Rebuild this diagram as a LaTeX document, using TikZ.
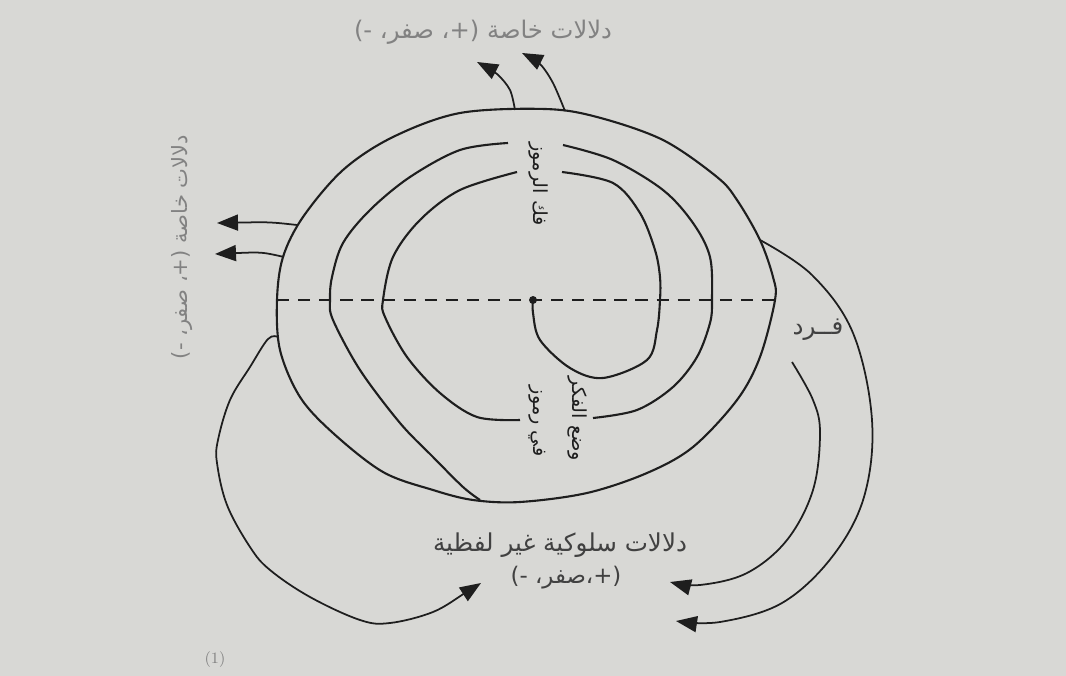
\documentclass[tikz,border=0pt]{standalone}
\usepackage{fontspec}
\usetikzlibrary{arrows.meta}
\TeXXeTstate=1
\newfontfamily\arabicfont[Script=Arabic]{DejaVu Sans}
\definecolor{paper}{RGB}{216,216,213}
\definecolor{ink}{RGB}{30,30,30}
\definecolor{faint}{RGB}{130,130,130}
\definecolor{mid}{RGB}{65,65,65}

\begin{document}
\begin{tikzpicture}[x=0.02cm, y=-0.02cm,
    ring/.style={draw=ink, line width=1.2pt},
    link/.style={draw=ink, line width=1pt, -{Triangle[length=4.2mm, width=3.2mm]}},
    grey/.style={font=\arabicfont\fontsize{#1}{16}\selectfont, text=faint, inner sep=0pt},
    dark/.style={font=\arabicfont\fontsize{#1}{16}\selectfont, text=mid, inner sep=0pt},
    turn/.style={font=\arabicfont\fontsize{11}{13}\selectfont, text=ink, inner sep=0pt, rotate=-90}]
        % Page
        \fill[paper] (0,0) rectangle (1066,676);
        \useasboundingbox (0,0) rectangle (1066,676);

        % Draw nodes
        \node[grey=13.8] (top) at (483,32) {\beginR دلالات خاصة (+، صفر، -)\endR};
        \node[grey=12, rotate=90] (side) at (182,247) {\beginR دلالات خاصة (+، صفر، -)\endR};
        \node[turn] (decode) at (538,184) {\beginR فك الرموز\endR};
        \node[turn] (inside) at (537,421) {\beginR في رموز\endR};
        \node[turn] (encode) at (577,419) {\beginR وضع الفكر\endR};
        \node[dark=14] (person) at (818,330) {\beginR فــرد\endR};
        \node[dark=14] (nonverb) at (560,545) {\beginR دلالات سلوكية غير لفظية\endR};
        \node[dark=13] (values) at (566,578) {\beginR (+،صفر، -)\endR};
        \node[font=\fontsize{9}{11}\selectfont, text=faint] (num) at (215,660) {(1)};
        \node[circle, fill=ink, inner sep=1.6pt] (core) at (533,300) {};

        % Ends
        \coordinate (axisL) at (277,300);
        \coordinate (axisR) at (775,300);
        \coordinate (upA) at (515,110);
        \coordinate (upAtip) at (477,62);
        \coordinate (upB) at (565,111);
        \coordinate (upBtip) at (522,53);
        \coordinate (leftA) at (297,225);
        \coordinate (leftAtip) at (217,223);
        \coordinate (leftB) at (284,257);
        \coordinate (leftBtip) at (215,254);
        \coordinate (loopL) at (278,337);
        \coordinate (loopLtip) at (481,583);
        \coordinate (loopR) at (760,240);
        \coordinate (loopRtip) at (676,621);
        \coordinate (freeR) at (792,362);
        \coordinate (freeRtip) at (670,582);

        % Rings
        \draw[ring] plot[smooth cycle, tension=0.55] coordinates {(277,300) (280,350) (300,397) (333,433) (383,472) (433,490) (473,500) (520,502) (587,493) (647,473) (693,447) (737,400) (760,357) (775,300) (773,277) (760,240) (737,200) (717,177) (663,140) (597,117) (545,109) (460,113) (393,137) (343,170) (303,217) (283,257)};
        \draw[ring] plot[smooth, tension=0.55] coordinates {(508,143) (460,150) (410,177) (370,210) (343,243) (332,277) (330,300) (333,320) (360,370) (400,423) (433,457) (463,487) (480,500)};
        \draw[ring] plot[smooth, tension=0.55] coordinates {(593,418) (637,410) (673,387) (697,357) (710,323) (712,300) (710,257) (693,223) (663,190) (613,160) (563,145)};
        \draw[ring] plot[smooth, tension=0.55] coordinates {(517,172) (460,190) (420,220) (393,257) (383,300) (385,317) (407,357) (440,393) (477,417) (520,420)};
        \draw[ring] plot[smooth, tension=0.55] coordinates {(core) (533,313) (540,340) (570,368) (603,378) (647,360) (657,330) (660,300) (660,277) (655,250) (640,213) (613,183) (562,172)};
        \draw[ink, line width=0.9pt, dash pattern=on 7pt off 5pt] (axisL) -- (axisR);

        % Draw connections
        \draw[link] plot[smooth] coordinates {(upA) (510,90) (497,74) (upAtip)};
        \draw[link] plot[smooth] coordinates {(upB) (553,83) (540,64) (upBtip)};
        \draw[link] (leftA) .. controls (270,222) .. (leftAtip);
        \draw[link] (leftB) .. controls (262,252) .. (leftBtip);
        \draw[link] plot[smooth, tension=0.6] coordinates {(loopL) (268,339) (250,367) (230,400) (218,440) (217,463) (227,505) (250,547) (270,570) (310,597) (360,620) (390,623) (433,612) (465,593) (loopLtip)};
        \draw[link] plot[smooth, tension=0.6] coordinates {(loopR) (812,275) (853,333) (872,420) (864,497) (832,557) (782,603) (720,622) (loopRtip)};
        \draw[link] plot[smooth, tension=0.6] coordinates {(freeR) (813,400) (820,433) (813,490) (787,540) (747,573) (700,585) (freeRtip)};
\end{tikzpicture}
\end{document}
